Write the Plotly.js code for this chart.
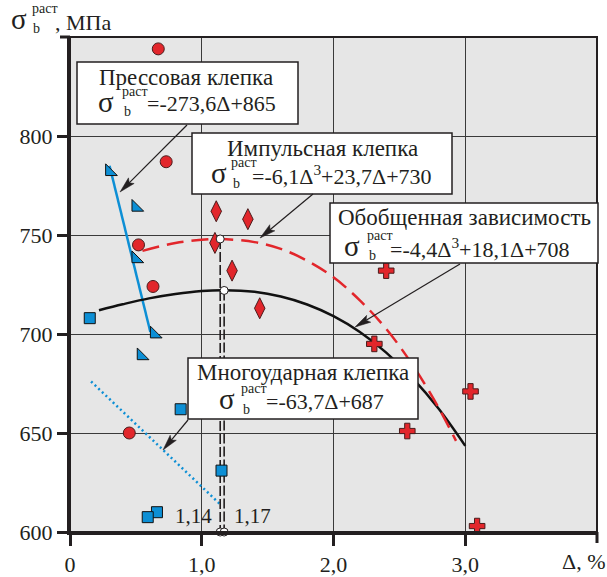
<!DOCTYPE html>
<html><head><meta charset="utf-8">
<script src="https://cdn.plot.ly/plotly-3.0.1.min.js"></script>
<style>html,body{margin:0;padding:0;background:#fff}</style>
</head><body><div id="chart" style="width:607px;height:577px"></div>
<script>
// ---- data ----
const circleX = [0.67, 0.73, 0.52, 0.63, 0.45];
const circleY = [844, 787, 745, 724, 650];
const triX = [0.30, 0.50, 0.50, 0.64, 0.54];
const triY = [782, 764, 738, 700, 689];
const squareX = [0.15, 0.84, 1.15, 0.66, 0.59];
const squareY = [708, 662, 631, 610, 607.5];
const diamondX = [1.11, 1.35, 1.10, 1.23, 1.44];
const diamondY = [762, 758, 746, 732, 713];
const crossX = [2.40, 2.31, 3.04, 2.56, 3.09];
const crossY = [732, 695, 671, 651, 603];

const pressX = [0.30, 0.61];
const pressY = [785, 701];
const multiX = [0.16, 1.14];
const multiY = [676, 614];
const impulseX = [0.55, 0.8, 1.0, 1.14, 1.4, 1.6, 1.8, 2.0, 2.2, 2.4, 2.6, 2.8, 2.93];
const impulseY = [742, 746, 747.6, 748, 746.4, 743, 737, 728.6, 717, 702.6, 684.4, 662.5, 646];
const genX = [0.22, 0.4, 0.6, 0.8, 1.0, 1.17, 1.4, 1.6, 1.8, 2.0, 2.2, 2.4, 2.6, 2.8, 3.0];
const genY = [712, 715, 718, 720.2, 721.7, 722.1, 721.3, 718.9, 714.9, 709, 701, 690.6, 677.7, 662.1, 643.5];
const peakX = [1.14, 1.17];
const peakY = [748, 722];
const baseY = [600, 600];
const peakLabels = ['1,14', '1,17'];

const xTickVals = [0, 1, 2, 3];
const xTickText = ['0', '1,0', '2,0', '3,0'];
const yTickVals = [600, 650, 700, 750, 800];
const yTickText = ['600', '650', '700', '750', '800'];

// ---- styling / layout helpers ----
const W = 607, H = 577, ML = 70, MR = 10, MT = 37, MB = 45;
const PW = W - ML - MR, PH = H - MT - MB;
const px = x => (x - ML) / PW, py = y => 1 - (y - MT) / PH;
const FONT = "Liberation Serif, 'Times New Roman', 'DejaVu Serif', Times, serif";
const INK = '#231f20';
const RED = '#e2262b', BLUE = '#0d8fd5';

const traces = [
  {x: pressX, y: pressY, mode: 'lines', line: {color: BLUE, width: 2.5}},
  {x: multiX, y: multiY, mode: 'lines', line: {color: BLUE, width: 2.5, dash: '2px,3px'}},
  {x: genX, y: genY, mode: 'lines', line: {color: '#111', width: 2.5, shape: 'spline'}},
  {x: impulseX, y: impulseY, mode: 'lines', line: {color: RED, width: 2.5, dash: '17px,8px', shape: 'spline'}},
  {x: [peakX[0], peakX[0]], y: [peakY[0], baseY[0]], mode: 'lines', line: {color: INK, width: 1.6, dash: '10px,3px'}},
  {x: [peakX[1], peakX[1]], y: [peakY[1], baseY[1]], mode: 'lines', line: {color: INK, width: 1.6, dash: '10px,3px'}},
  {x: circleX, y: circleY, mode: 'markers', cliponaxis: false,
   marker: {symbol: 'circle', size: 12, color: RED, line: {color: '#4a1c1c', width: 1}}},
  {x: triX, y: triY, mode: 'markers', cliponaxis: false,
   marker: {symbol: 'triangle-sw', size: 13, color: BLUE, line: {color: '#111', width: 1}}},
  {x: squareX, y: squareY, mode: 'markers', cliponaxis: false,
   marker: {symbol: 'square', size: 11, color: BLUE, line: {color: '#111', width: 1}}},
  {x: diamondX, y: diamondY, mode: 'markers', cliponaxis: false,
   marker: {symbol: 'diamond-tall', size: 15, color: RED, line: {color: '#4a1c1c', width: 1}}},
  {x: crossX, y: crossY, mode: 'markers', cliponaxis: false,
   marker: {symbol: 'cross', size: 13, color: RED, line: {color: '#4a1c1c', width: 1}}},
  {x: peakX.concat(peakX), y: peakY.concat(baseY), mode: 'markers', cliponaxis: false,
   marker: {symbol: 'circle', size: 8, color: '#fff', line: {color: INK, width: 1}}}
];

const shapes = [];
const annotations = [];

function txt(x, y, text, size, anchor) {
  annotations.push({xref: 'paper', yref: 'paper', x: px(x), y: py(y), text: text, showarrow: false,
    xanchor: anchor || 'left', yanchor: 'middle', borderpad: 0,
    font: {family: FONT, size: size, color: INK}});
}
function box(x0, y0, x1, y1) {
  shapes.push({type: 'rect', xref: 'paper', yref: 'paper', x0: px(x0), x1: px(x1), y0: py(y0), y1: py(y1),
    fillcolor: '#fff', line: {color: INK, width: 1.5}, layer: 'above'});
}
function arrow(tip, tail) {
  const dx = tail[0] - tip[0], dy = tail[1] - tip[1], d = Math.hypot(dx, dy);
  const ux = dx / d, uy = dy / d, nx = -uy, ny = ux;
  const L = 16, Wd = 4, N = 3;
  const bx = tip[0] + ux * L, by = tip[1] + uy * L;
  const p1 = [bx + nx * Wd, by + ny * Wd], p2 = [bx - nx * Wd, by - ny * Wd];
  const pn = [tip[0] + ux * (L - N), tip[1] + uy * (L - N)];
  shapes.push({type: 'line', xref: 'paper', yref: 'paper', x0: px(tail[0]), y0: py(tail[1]),
    x1: px(pn[0]), y1: py(pn[1]), line: {color: INK, width: 1.2}, layer: 'above'});
  shapes.push({type: 'path', xref: 'paper', yref: 'paper', layer: 'above',
    path: 'M' + px(tip[0]) + ',' + py(tip[1]) + ' L' + px(p1[0]) + ',' + py(p1[1]) +
      ' L' + px(pn[0]) + ',' + py(pn[1]) + ' L' + px(p2[0]) + ',' + py(p2[1]) + ' Z',
    fillcolor: INK, line: {color: INK, width: 0.5}});
}
function sigma(xs, xsup, xsub, yc) {
  txt(xs, yc - 2, 'σ', 29);
  txt(xsup, yc - 13, 'раст', 14);
  txt(xsub, yc + 8, 'b', 14);
}

// plot border (top/right thinner) and the unlabeled end ticks
shapes.push({type: 'rect', xref: 'paper', yref: 'paper', x0: 0, x1: 1, y0: 0, y1: 1,
  line: {color: INK, width: 2}, layer: 'above'});
shapes.push({type: 'line', xref: 'paper', yref: 'paper', x0: 1, x1: 1, y0: 0, y1: -11 / PH,
  line: {color: INK, width: 3}});
shapes.push({type: 'line', xref: 'paper', yref: 'paper', x0: 0, x1: -10 / PW, y0: 1, y1: 1,
  line: {color: INK, width: 3}});

// Box 1 — press riveting
box(77, 62, 298, 124);
txt(185.5, 78, 'Прессовая клепка', 23, 'center');
sigma(97, 121, 123, 104);
txt(146, 104, '=-273,6Δ+865', 22);
arrow([120, 192], [187, 125]);

// Box 2 — impulse riveting
box(192, 133, 452, 194);
txt(322, 148, 'Импульсная клепка', 23, 'center');
sigma(210, 230, 232, 175);
txt(251, 175, '=-6,1Δ<sup>3</sup>+23,7Δ+730', 22);
arrow([260, 238], [313, 194]);

// Box 3 — generalized
box(330, 203, 598, 263);
txt(464, 217.5, 'Обобщенная зависимость', 23, 'center');
sigma(343, 366, 368, 248);
txt(389, 248, '=-4,4Δ<sup>3</sup>+18,1Δ+708', 22);
arrow([355, 327], [460, 264]);

// Box 4 — multi-impact riveting
box(188, 358, 418, 419);
txt(303, 372, 'Многоударная клепка', 23, 'center');
sigma(218, 240, 242, 401);
txt(265, 401, '=-63,7Δ+687', 22);
arrow([163, 450], [188, 420]);

// peak labels
annotations.push({xref: 'x', yref: 'paper', x: peakX[0], y: py(516), text: peakLabels[0], showarrow: false,
  xanchor: 'right', yanchor: 'middle', xshift: -6, font: {family: FONT, size: 21, color: INK}});
annotations.push({xref: 'x', yref: 'paper', x: peakX[1], y: py(516), text: peakLabels[1], showarrow: false,
  xanchor: 'left', yanchor: 'middle', xshift: 8, font: {family: FONT, size: 21, color: INK}});

// axis titles
sigma(10, 31, 32, 21);
txt(54, 22, ', МПа', 22);
txt(606, 561, 'Δ, %', 22, 'right');

const axisCommon = {
  showgrid: true, gridcolor: '#3a3a3a', gridwidth: 1, zeroline: false,
  showline: true, linecolor: INK, linewidth: 3, ticks: 'outside', tickwidth: 3, tickcolor: INK,
  tickfont: {family: FONT, size: 22, color: INK}, fixedrange: true
};

const layout = {
  width: W, height: H, margin: {l: ML, r: MR, t: MT, b: MB},
  font: {family: FONT},
  paper_bgcolor: '#fff', plot_bgcolor: '#e6e6e6', showlegend: false,
  xaxis: Object.assign({}, axisCommon, {range: [0, 4], tickmode: 'array', tickvals: xTickVals, ticktext: xTickText, ticklen: 11}),
  yaxis: Object.assign({}, axisCommon, {range: [600, 850], tickmode: 'array', tickvals: yTickVals, ticktext: yTickText, ticklen: 10}),
  shapes: shapes, annotations: annotations
};

Plotly.newPlot('chart', traces, layout, {displayModeBar: false, staticPlot: true});
</script></body></html>
